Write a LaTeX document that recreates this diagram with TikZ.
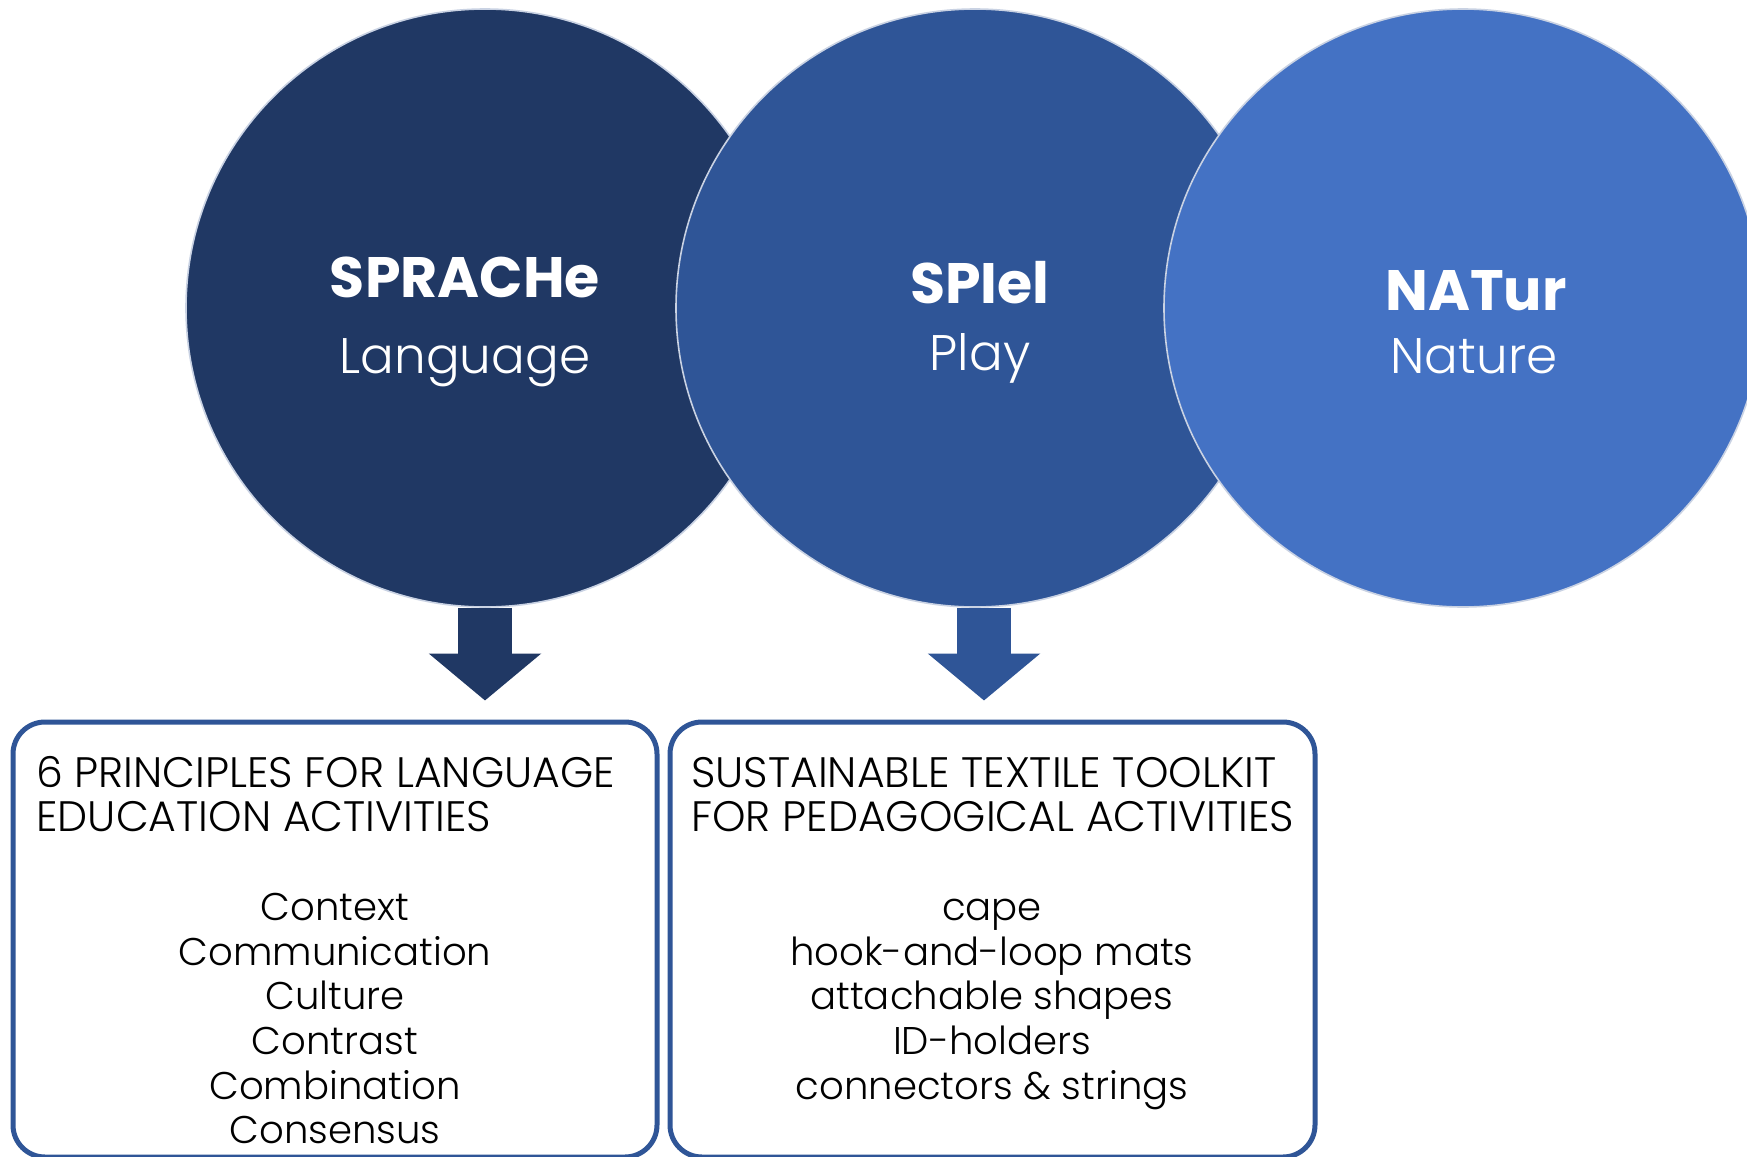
\documentclass[tikz,border=0pt]{standalone}
\usepackage{fontspec}
\setmainfont{Poppins}
\newfontfamily\lightfont{Poppins Light}
\usetikzlibrary{arrows.meta}
\definecolor{cA}{HTML}{203864}
\definecolor{cB}{HTML}{2F5597}
\definecolor{cC}{HTML}{4472C4}
\definecolor{rim}{HTML}{C9D2E3}
\begin{document}
\begin{tikzpicture}[x=0.5pt,y=-0.5pt,
  circ/.style={circle, draw=rim, line width=0.8pt, minimum size=299pt, inner sep=0pt},
  ttl/.style={text=white, font=\bfseries\fontsize{28.5}{34}\selectfont, anchor=base, inner sep=0pt},
  sub/.style={text=white, font=\lightfont\fontsize{25}{30}\selectfont, anchor=base, inner sep=0pt},
  bigarrow/.style={line width=27pt, -{Triangle[width=55pt,length=23.5pt]}, shorten >=9.5pt},
  panel/.style={draw=cB, line width=2.5pt, rounded corners=16pt, minimum width=322pt, minimum height=217.5pt, inner sep=0pt},
  head/.style={font=\lightfont\fontsize{21.3}{23}\selectfont, anchor=base west, inner sep=0pt},
  item/.style={font=\lightfont\fontsize{19.3}{22}\selectfont, anchor=base, inner sep=0pt},
]
\useasboundingbox (0,0) rectangle (1747,1157);
\fill[white] (0,0) rectangle (1747,1157);
% circles
\node[circ, fill=cA] (c1) at (485,308) {};
\node[circ, fill=cB] (c2) at (975,308) {};
\node[circ, fill=cC] (c3) at (1463,308) {};
% panels
\node[panel] (b1) at (335,939.5) {};
\node[panel, minimum width=322.5pt] (b2) at (992.5,939.5) {};
% arrows
\draw[bigarrow, draw=cA, fill=cA] (c1.south) -- (c1.south |- b1.north);
\draw[bigarrow, draw=cB, fill=cB] ([xshift=4.5pt]c2.south) -- ([xshift=4.5pt]c2.south |- b2.north);
% circle texts
\node[ttl] (t1) at (465,297) {SPRACHe};
\node[sub] (s1) at (465,373) {Language};
\node[ttl] (t2) at (980,303) {SPIel};
\node[sub] (s2) at (980,370) {Play};
\node[ttl] (t3) at (1476,310) {NATur};
\node[sub] (s3) at (1474,373) {Nature};
% panel 1 texts
\node[head] (h1a) at (36,787) {6 PRINCIPLES FOR LANGUAGE};
\node[head] (h1b) at (36,831) {EDUCATION ACTIVITIES};
\node[item] (p1) at (335,920) {Context};
\node[item] (p2) at (335,965) {Communication};
\node[item] (p3) at (335,1009) {Culture};
\node[item] (p4) at (335,1054) {Contrast};
\node[item] (p5) at (335,1099) {Combination};
\node[item] (p6) at (335,1143) {Consensus};
% panel 2 texts
\node[head] (h2a) at (691,787) {SUSTAINABLE TEXTILE TOOLKIT};
\node[head] (h2b) at (691,831) {FOR PEDAGOGICAL ACTIVITIES};
\node[item] (q1) at (992,920) {cape};
\node[item] (q2) at (992,965) {hook-and-loop mats};
\node[item] (q3) at (992,1009) {attachable shapes};
\node[item] (q4) at (992,1054) {ID-holders};
\node[item] (q5) at (992,1099) {connectors \& strings};
\end{tikzpicture}
\end{document}
